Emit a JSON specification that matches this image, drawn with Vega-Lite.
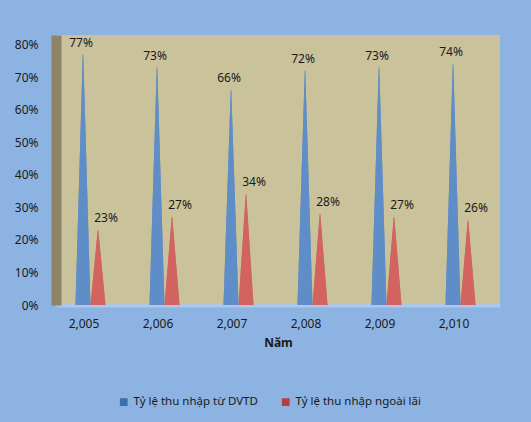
{
  "$schema": "https://vega.github.io/schema/vega-lite/v6.json",
  "autosize": {"type": "none"},
  "width": 444,
  "height": 270,
  "padding": {"left": 56, "top": 35, "right": 31, "bottom": 117},
  "background": "#8db3e2",
  "config": {
    "view": {"fill": "#c9c29b", "stroke": null},
    "font": "Noto Sans"
  },
  "data": {
    "values": [
      {"year": "2,005", "series": "Tỷ lệ thu nhập từ DVTD", "value": 0.77},
      {"year": "2,005", "series": "Tỷ lệ thu nhập ngoài lãi", "value": 0.23},
      {"year": "2,006", "series": "Tỷ lệ thu nhập từ DVTD", "value": 0.73},
      {"year": "2,006", "series": "Tỷ lệ thu nhập ngoài lãi", "value": 0.27},
      {"year": "2,007", "series": "Tỷ lệ thu nhập từ DVTD", "value": 0.66},
      {"year": "2,007", "series": "Tỷ lệ thu nhập ngoài lãi", "value": 0.34},
      {"year": "2,008", "series": "Tỷ lệ thu nhập từ DVTD", "value": 0.72},
      {"year": "2,008", "series": "Tỷ lệ thu nhập ngoài lãi", "value": 0.28},
      {"year": "2,009", "series": "Tỷ lệ thu nhập từ DVTD", "value": 0.73},
      {"year": "2,009", "series": "Tỷ lệ thu nhập ngoài lãi", "value": 0.27},
      {"year": "2,010", "series": "Tỷ lệ thu nhập từ DVTD", "value": 0.74},
      {"year": "2,010", "series": "Tỷ lệ thu nhập ngoài lãi", "value": 0.26}
    ]
  },
  "transform": [
    {"fold": ["value"], "as": ["point", "v"]},
    {"impute": "v", "key": "point", "keyvals": ["base", "value"], "groupby": ["year", "series"], "value": 0}
  ],
  "encoding": {
    "x": {
      "field": "year", "type": "nominal", "sort": null,
      "scale": {"paddingInner": 0, "paddingOuter": 0},
      "axis": {
        "title": "Năm", "labelAngle": 0, "labelOffset": -9,
        "ticks": false, "tickSize": 0, "labelPadding": 13,
        "labelFontSize": 12, "labelColor": "#1a1a1a",
        "titleFontSize": 12, "titleFontWeight": "bold", "titleColor": "#1a1a1a", "titlePadding": 8,
        "domainColor": "#aec6e8", "domainWidth": 4
      }
    },
    "xOffset": {
      "field": "series", "type": "nominal", "sort": ["Tỷ lệ thu nhập từ DVTD", "Tỷ lệ thu nhập ngoài lãi"],
      "scale": {"range": [27, 42], "paddingInner": 0, "paddingOuter": 0}
    },
    "y": {
      "field": "v", "type": "quantitative",
      "scale": {"domain": [0, 0.83], "nice": false},
      "axis": {
        "title": null, "format": ".0%", "values": [0, 0.1, 0.2, 0.3, 0.4, 0.5, 0.6, 0.7, 0.8],
        "grid": false, "ticks": false, "tickSize": 0, "labelPadding": 18,
        "labelFontSize": 12, "labelColor": "#1a1a1a",
        "domainColor": "#8c8465", "domainWidth": 10
      }
    },
    "detail": {"field": "year"},
    "order": {"field": "point"}
  },
  "layer": [
    {
      "mark": {"type": "trail", "clip": true},
      "encoding": {
        "color": {
          "field": "series", "type": "nominal", "sort": ["Tỷ lệ thu nhập từ DVTD", "Tỷ lệ thu nhập ngoài lãi"],
          "scale": {"range": ["#3d6fae", "#b5413d"]},
          "legend": {
            "title": null, "orient": "none", "legendX": 62, "legendY": 361,
            "direction": "horizontal", "symbolType": "square", "symbolSize": 60,
            "labelFontSize": 11.5, "labelColor": "#1a1a1a", "columnPadding": 22,
            "symbolStrokeWidth": 0,
            "encode": {"symbols": {"update": {"fill": {"scale": "color", "field": "value"}, "fillOpacity": {"value": 1}}}}
          }
        },
        "size": {
          "field": "point", "type": "ordinal",
          "scale": {"domain": ["base", "value"], "range": [15, 0.5]},
          "legend": null
        }
      }
    },
    {
      "mark": {"type": "trail", "clip": true, "xOffset": -1.5, "opacity": 0.55},
      "encoding": {
        "fill": {
          "field": "series", "type": "nominal", "sort": ["Tỷ lệ thu nhập từ DVTD", "Tỷ lệ thu nhập ngoài lãi"],
          "scale": {"range": ["#7ba5de", "#ea7f7a"]},
          "legend": null
        },
        "size": {
          "field": "point", "type": "ordinal",
          "scale": {"domain": ["base", "value"], "range": [5, 0.2]},
          "legend": null
        }
      }
    },
    {
      "transform": [{"filter": "datum.point == 'value' && datum.series == 'Tỷ lệ thu nhập từ DVTD'"}],
      "mark": {"type": "text", "dy": -12, "dx": -2, "fontSize": 12, "color": "#1a1a1a"},
      "encoding": {
        "text": {"field": "v", "type": "quantitative", "format": ".0%"}
      }
    },
    {
      "transform": [{"filter": "datum.point == 'value' && datum.series == 'Tỷ lệ thu nhập ngoài lãi'"}],
      "mark": {"type": "text", "dy": -12, "dx": 8, "fontSize": 12, "color": "#1a1a1a"},
      "encoding": {
        "text": {"field": "v", "type": "quantitative", "format": ".0%"}
      }
    }
  ]
}
